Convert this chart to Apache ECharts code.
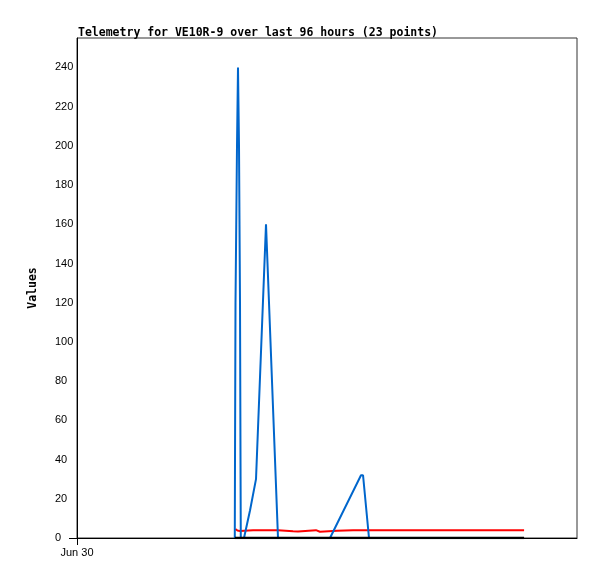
<!DOCTYPE html>
<html>
<head>
<meta charset="utf-8">
<script src="https://cdn.jsdelivr.net/npm/echarts@6/dist/echarts.min.js"></script>
<style>
  html, body { margin: 0; padding: 0; background: #fff; }
  #chart { width: 597px; height: 579px; }
</style>
</head>
<body>
<div id="chart"></div>
<script>
  // x values are hours since Jun 30 00:00
  var blueX = [7.574, 7.584, 7.608, 7.68, 7.728, 7.776, 7.824, 7.848, 7.862, 8.016, 8.304, 8.592, 9.072, 9.648, 12.144, 13.632, 13.73, 14.016];
  var blueY = [0, 40, 120, 200, 240, 200, 120, 40, 0, 0, 14, 30, 160, 0, 0, 32, 32, 0];

  var redX = [7.6, 7.7, 7.82, 8.45, 9.65, 9.74, 10.37, 10.46, 10.61, 11.47, 11.66, 12.48, 13.25, 21.46];
  var redY = [4.6, 3.8, 3.6, 3.9, 3.9, 3.3, 3.4, 3.9, 3.3, 4.0, 3.2, 3.7, 4.0, 4.0];

  var blackX = [7.574, 21.46];
  var blackY = [0, 0];

  var yTicks = [0, 20, 40, 60, 80, 100, 120, 140, 160, 180, 200, 220, 240];
  var xLabel = 'Jun 30';

  function pairs(xs, ys) {
    var out = [];
    for (var i = 0; i < xs.length; i++) out.push([xs[i], ys[i]]);
    return out;
  }

  var chart = echarts.init(document.getElementById('chart'));
  chart.setOption({
    animation: false,
    title: {
      text: 'Telemetry for VE10R-9 over last 96 hours (23 points)',
      left: 73,
      top: 22,
      textStyle: { fontFamily: 'DejaVu Sans Mono', fontSize: 11.5, fontWeight: 'bold', color: '#000' }
    },
    grid: {
      left: 77, right: 20, top: 38, bottom: 41,
      show: true, borderColor: '#333', borderWidth: 1
    },
    xAxis: {
      type: 'value',
      min: 0,
      max: 24,
      interval: 24,
      splitLine: { show: false },
      axisLine: { lineStyle: { color: '#000' } },
      axisTick: { customValues: [0], length: 7, lineStyle: { color: '#000' } },
      axisLabel: {
        customValues: [0],
        formatter: function (v) { return v === 0 ? xLabel : ''; },
        fontFamily: 'Liberation Sans', fontSize: 11, color: '#000', margin: 9
      }
    },
    yAxis: {
      type: 'value',
      min: 0,
      max: 255,
      name: 'Values',
      nameLocation: 'middle',
      nameGap: 38,
      nameTextStyle: { fontFamily: 'DejaVu Sans Mono', fontSize: 11.5, fontWeight: 'bold', color: '#000' },
      splitLine: { show: false },
      axisLine: { show: true, lineStyle: { color: '#000' } },
      axisTick: { customValues: [0], length: 8, lineStyle: { color: '#000' } },
      axisLabel: {
        customValues: yTicks,
        align: 'left',
        fontFamily: 'Liberation Sans', fontSize: 11, color: '#000', margin: 22
      }
    },
    series: [
      {
        type: 'line', data: pairs(redX, redY), symbol: 'none', z: 2,
        lineStyle: { color: '#ff0000', width: 2 }
      },
      {
        type: 'line', data: pairs(blueX, blueY), symbol: 'none', z: 3,
        lineStyle: { color: '#0066cc', width: 2 }
      },
      {
        type: 'line', data: pairs(blackX, blackY), symbol: 'none', z: 4,
        lineStyle: { color: '#000000', width: 2.5 }
      }
    ]
  });
</script>
</body>
</html>
